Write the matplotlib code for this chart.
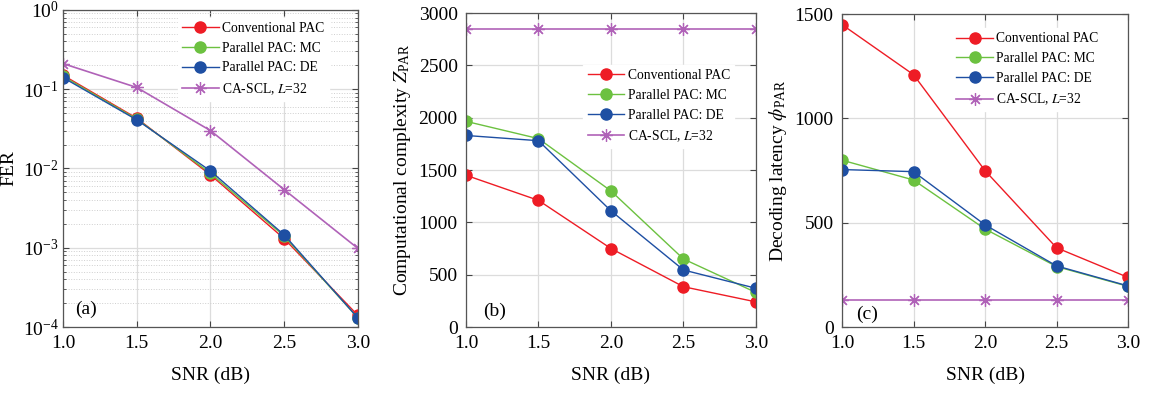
import matplotlib
matplotlib.use('Agg')
import matplotlib.pyplot as plt
from matplotlib.ticker import LogLocator, NullFormatter, FixedLocator, FuncFormatter
import numpy as np

plt.rcParams['font.family'] = ['Liberation Serif', 'DejaVu Serif']
plt.rcParams['mathtext.fontset'] = 'stix'

snr = [1.0, 1.5, 2.0, 2.5, 3.0]
labels = ['Conventional PAC', 'Parallel PAC: MC', 'Parallel PAC: DE', 'CA-SCL, $L$=32']

# (a) FER
fer_conv = [0.15, 0.043, 0.0083, 0.0013, 0.00014]
fer_mc = [0.145, 0.042, 0.0087, 0.0014, 0.00013]
fer_de = [0.14, 0.041, 0.0093, 0.00145, 0.00013]
fer_scl = [0.21, 0.105, 0.030, 0.0054, 0.00098]

# (b) computational complexity
cc_conv = [1450, 1210, 750, 385, 240]
cc_mc = [1965, 1800, 1300, 650, 330]
cc_de = [1830, 1780, 1110, 545, 370]
cc_scl = [2850, 2850, 2850, 2850, 2850]

# (c) decoding latency
lat_conv = [1450, 1210, 750, 380, 238]
lat_mc = [800, 705, 470, 290, 195]
lat_de = [755, 745, 490, 293, 197]
lat_scl = [128, 128, 128, 128, 128]

red = '#ee1c25'
green = '#6cc140'
blue = '#1e4fa3'
purple = '#b062b8'

fig = plt.figure(figsize=(11.52, 3.94), dpi=100)
ax1 = fig.add_axes([0.0547, 0.170, 0.256, 0.805])
ax2 = fig.add_axes([0.4045, 0.170, 0.2517, 0.797])
ax3 = fig.add_axes([0.7309, 0.170, 0.2483, 0.794])

def draw(ax, ys):
    cols = [red, green, blue, purple]
    for i in range(4):
        if i < 3:
            ax.plot(snr, ys[i], color=cols[i], lw=1.0, marker='o', ms=8, label=labels[i])
        else:
            ax.plot(snr, ys[i], color=cols[i], lw=1.2, marker=(8, 2, 0), ms=9, mew=0.9, label=labels[i])
    ax.set_xlim(1, 3)
    ax.set_xticks(snr)
    ax.set_xticklabels(['1.0', '1.5', '2.0', '2.5', '3.0'])
    ax.set_xlabel('SNR (dB)', fontsize=14, labelpad=10)
    ax.grid(True, which='major', color='#dcdcdc', lw=0.9)
    ax.set_axisbelow(True)
    ax.tick_params(direction='in', top=True, right=True, labelsize=14, length=4, color='#444444', pad=6)
    for s in ax.spines.values():
        s.set_color('#555555')
        s.set_linewidth(0.9)

def leg(ax, anchor, fs=9.8):
    ax.legend(loc='upper left', bbox_to_anchor=anchor, fontsize=fs, frameon=True, framealpha=1,
              edgecolor='white', fancybox=False, borderpad=0.3, borderaxespad=0,
              handlelength=2.7, handletextpad=0.25, labelspacing=0.5)

draw(ax1, [fer_conv, fer_mc, fer_de, fer_scl])
ax1.set_yscale('log')
ax1.set_ylim(1e-4, 1)
ax1.yaxis.set_major_locator(FixedLocator([1e-4, 1e-3, 1e-2, 1e-1, 1]))
ax1.yaxis.set_major_formatter(FuncFormatter(lambda v, p: r'$\mathregular{10^{%d}}$' % int(round(np.log10(v)))))
ax1.yaxis.set_minor_locator(LogLocator(base=10, subs=range(2, 10)))
ax1.yaxis.set_minor_formatter(NullFormatter())
ax1.grid(True, which='minor', axis='y', color='#cfcfcf', lw=0.7, ls=':')
ax1.tick_params(which='minor', direction='in', right=True, length=2, color='#444444')
ax1.tick_params(axis='y', pad=3)
ax1.set_ylabel('FER', fontsize=14, labelpad=4)
ax1.text(1.08, 1.45e-4, '(a)', fontsize=14)
leg(ax1, (0.39, 0.975))

draw(ax2, [cc_conv, cc_mc, cc_de, cc_scl])
ax2.set_ylim(0, 3000)
ax2.set_yticks([0, 500, 1000, 1500, 2000, 2500, 3000])
ax2.set_ylabel(r'Computational complexity $Z_{\mathregular{PAR}}$', fontsize=14)
ax2.text(1.12, 110, '(b)', fontsize=14)
leg(ax2, (0.405, 0.835))

draw(ax3, [lat_conv, lat_mc, lat_de, lat_scl])
ax3.set_ylim(0, 1500)
ax3.set_yticks([0, 500, 1000, 1500])
ax3.set_ylabel(r'Decoding latency $\phi_{\mathregular{PAR}}$', fontsize=14)
ax3.text(1.1, 40, '(c)', fontsize=14)
leg(ax3, (0.385, 0.955))

fig.savefig('out.png', dpi=100)
